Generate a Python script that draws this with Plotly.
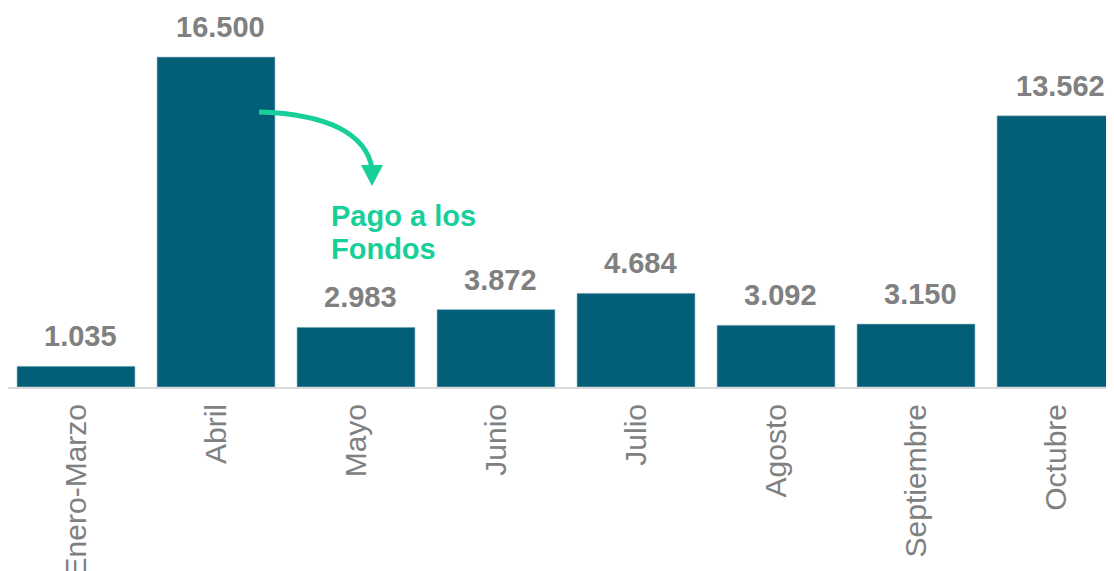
import plotly.graph_objects as go

categories = ["Enero-Marzo", "Abril", "Mayo", "Junio", "Julio", "Agosto", "Septiembre", "Octubre"]
values = [1035, 16500, 2983, 3872, 4684, 3092, 3150, 13562]
value_labels = [format(v, ",").replace(",", ".") for v in values]

BAR = "#035f78"
GREY = "#808080"
GREEN = "#17cf98"

OFF = 8  # default page body margin
W, H = 1114 - OFF, 571 - OFF
ML, MR, MT, MB = 0, 0, 0, 184
PW = W - ML - MR
PH = H - MT - MB
STEP = 140  # pixels per category


def px(x):
    return (x - OFF - ML) / PW


def py(y):
    return (OFF + MT + PH - y) / PH


fig = go.Figure()
fig.add_trace(go.Bar(
    x=list(range(len(categories))), y=values,
    marker=dict(color=BAR, line=dict(color="#a9c6d0", width=0.6)),
    hoverinfo="skip",
))

for i, (v, t) in enumerate(zip(values, value_labels)):
    fig.add_annotation(x=i, y=v, text=f"<b>{t}</b>", showarrow=False,
                       xref="x", yref="y", yanchor="bottom", yshift=12, xshift=4,
                       font=dict(family="Liberation Sans, Arial", size=29, color=GREY))

# "Pago a los Fondos" annotation with curved arrow
fig.add_annotation(x=px(329), y=py(216), xref="paper", yref="paper", text="<b>Pago a los</b>",
                   showarrow=False, xanchor="left", yanchor="middle",
                   font=dict(family="Liberation Sans, Arial", size=29, color=GREEN))
fig.add_annotation(x=px(329), y=py(249), xref="paper", yref="paper", text="<b>Fondos</b>",
                   showarrow=False, xanchor="left", yanchor="middle",
                   font=dict(family="Liberation Sans, Arial", size=29, color=GREEN))

p = lambda x, y: f"{px(x):.5f},{py(y):.5f}"
fig.add_shape(type="path", xref="paper", yref="paper",
              path=f"M {p(259,112)} C {p(330,114)} {p(366,135)} {p(372,168)}",
              line=dict(color=GREEN, width=5), layer="above")
fig.add_shape(type="path", xref="paper", yref="paper",
              path=f"M {p(361,165)} L {p(383,165)} L {p(372,186)} Z",
              line=dict(color=GREEN, width=0), fillcolor=GREEN, layer="above")

x0 = -(76 - OFF - ML) / STEP
fig.update_layout(
    width=W, height=H,
    margin=dict(l=ML, r=MR, t=MT, b=MB, pad=0, autoexpand=False),
    paper_bgcolor="white", plot_bgcolor="white",
    showlegend=False, bargap=0.157,
    xaxis=dict(
        tickmode="array", tickvals=list(range(len(categories))), ticktext=categories,
        range=[x0, x0 + PW / STEP], tickangle=-90, automargin=False,
        showline=True, linecolor="#d9d9d9", linewidth=2,
        showgrid=False, zeroline=False, ticks="", ticklabelstandoff=3,
        tickfont=dict(family="Liberation Sans, Arial", size=30, color=GREY),
    ),
    yaxis=dict(range=[0, 16500 * PH / 330], visible=False, showgrid=False,
               zeroline=False, automargin=False),
)

fig.write_html("out.html")
